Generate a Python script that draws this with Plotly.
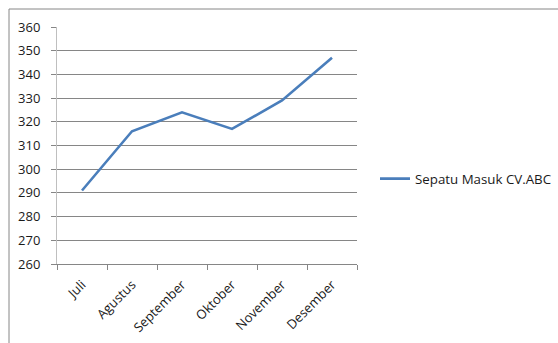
import plotly.graph_objects as go

# Monthly incoming shoe stock
bulan = ["Juli", "Agustus", "September", "Oktober", "November", "Desember"]
sepatu_masuk = [291, 316, 324, 317, 329, 347]
nama_seri = "Sepatu Masuk CV.ABC"
y_ticks = [260, 270, 280, 290, 300, 310, 320, 330, 340, 350, 360]

W, H = 558, 343
L, R, T, B = 57, 357, 27, 264  # plot-area edges in pixels

fig = go.Figure()
fig.add_trace(go.Scatter(
    x=bulan, y=sepatu_masuk, mode="lines", name=nama_seri,
    line=dict(color="#4A7EBB", width=2.6),
))

family = "Open Sans, Calibri, Carlito, sans-serif"
font = dict(family=family, size=13, color="#1a1a1a")

fig.update_layout(
    width=W, height=H,
    margin=dict(l=L, r=W - R, t=T, b=H - B, autoexpand=False),
    paper_bgcolor="white", plot_bgcolor="white",
    font=font,
    showlegend=True,
    legend=dict(x=(375 - L) / (R - L), y=(B - 179) / (B - T),
                xanchor="left", yanchor="middle",
                bgcolor="rgba(0,0,0,0)",
                font=dict(family=family, size=13.3, color="#1a1a1a"),
                itemwidth=30, tracegroupgap=0),
    xaxis=dict(
        type="category", tickangle=-45,
        showline=True, linecolor="#868686", linewidth=1,
        ticks="outside", tickson="boundaries", ticklen=5, tickcolor="#868686",
        showgrid=False, zeroline=False, range=[-0.5, 5.5],
        automargin=False, ticklabelstandoff=7,
    ),
    yaxis=dict(
        range=[260, 360], tickvals=y_ticks,
        showline=True, linecolor="#BFBFBF", linewidth=1,
        ticks="outside", ticklen=5, tickcolor="#868686",
        showgrid=True, gridcolor="#868686", gridwidth=1,
        zeroline=False, ticklabelstandoff=8, automargin=False,
    ),
    shapes=[dict(
        type="rect", xref="paper", yref="paper",
        x0=(9 - L) / (R - L), x1=(W + 20 - L) / (R - L),
        y0=(B - (H + 20)) / (B - T), y1=(B - 9) / (B - T),
        line=dict(color="#868686", width=1), fillcolor="rgba(0,0,0,0)", layer="below",
    )],
)

fig.write_html("out.html")
